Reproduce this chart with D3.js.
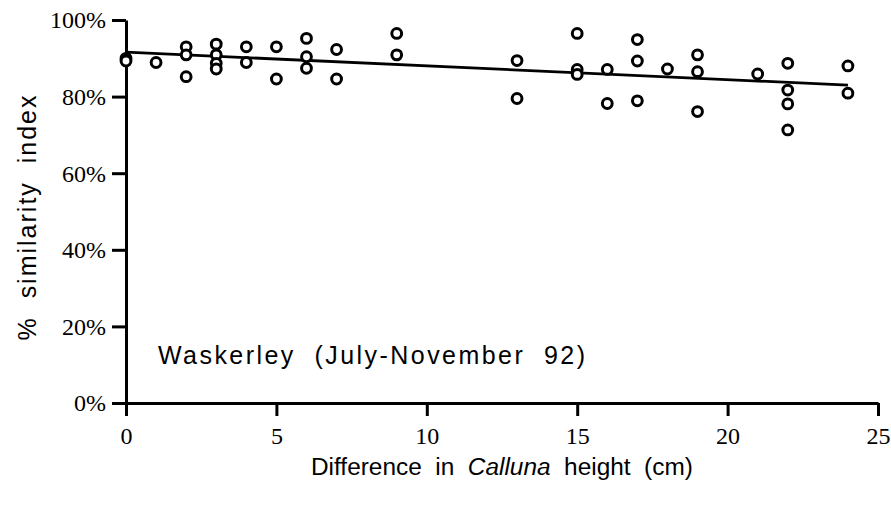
<!DOCTYPE html>
<html>
<head>
<meta charset="utf-8">
<script src="https://cdn.jsdelivr.net/npm/d3@7"></script>
<style>
  html, body { margin: 0; padding: 0; background: #fff; }
  svg { display: block; }
  text.pre { white-space: pre; }
</style>
</head>
<body>
<svg id="chart" width="891" height="506"></svg>
<script>
// ---- data ----
const heightDiff = [0, 0, 1, 2, 2, 2, 3, 3, 3, 3, 4, 4, 5, 5, 6, 6, 6, 7, 7, 9, 9,
                    13, 13, 15, 15, 15, 16, 16, 17, 17, 17, 18, 19, 19, 19, 21, 22, 22, 22, 22, 24, 24];
const similarity = [90, 89.3, 88.9, 93.0, 90.9, 85.2, 93.7, 90.9, 88.7, 87.2, 93.0, 88.9, 93.0, 84.6,
                    95.2, 90.4, 87.4, 92.3, 84.6, 96.5, 90.9,
                    89.4, 79.5, 96.5, 87.1, 85.8, 87.1, 78.2, 94.9, 89.3, 78.9, 87.2, 90.9, 86.5, 76.1,
                    85.9, 88.7, 81.7, 78.1, 71.3, 88.0, 80.9];
const fitX = [0, 24];
const fitY = [91.6, 83.0];
const xTicks = [0, 5, 10, 15, 20, 25];
const yTicks = [0, 20, 40, 60, 80, 100];
const xTitle = ["Difference  in  ", "Calluna", "  height  (cm)"];
const yTitle = "%  similarity  index";
const annotation = "Waskerley  (July-November  92)";

// ---- drawing ----
const svg = d3.select("#chart");
const x = d3.scaleLinear().domain([0, 25]).range([126, 878]);
const y = d3.scaleLinear().domain([0, 100]).range([403, 20]);

const serif = "'Liberation Serif', 'Times New Roman', serif";
const sans = "'Liberation Sans', Arial, Helvetica, sans-serif";

// y axis
const gy = svg.append("g")
  .attr("transform", `translate(${x(0)},0)`)
  .call(d3.axisLeft(y).tickValues(yTicks).tickSize(14).tickSizeOuter(0).tickPadding(6)
    .tickFormat(d => d + "%"));
// x axis
const gx = svg.append("g")
  .attr("transform", `translate(0,${y(0)})`)
  .call(d3.axisBottom(x).tickValues(xTicks).tickSize(13).tickSizeOuter(0).tickPadding(11)
    .tickFormat(d3.format("d")));

[gx, gy].forEach(g => {
  g.select(".domain").attr("stroke", "#000").attr("stroke-width", 3);
  g.selectAll(".tick line").attr("stroke", "#000").attr("stroke-width", 3);
  g.selectAll(".tick text").attr("fill", "#000")
    .style("font-family", serif).style("font-size", "24px");
});
gy.selectAll(".tick text").attr("dy", "0.33em");

// regression line
svg.append("path")
  .datum(fitX.map((d, i) => [d, fitY[i]]))
  .attr("d", d3.line().x(d => x(d[0])).y(d => y(d[1])))
  .attr("fill", "none").attr("stroke", "#000").attr("stroke-width", 2.8);

// points
svg.append("g").selectAll("circle")
  .data(heightDiff.map((d, i) => [d, similarity[i]]))
  .join("circle")
  .attr("cx", d => x(d[0])).attr("cy", d => y(d[1]))
  .attr("r", 4.9)
  .attr("fill", "#fff").attr("stroke", "#000").attr("stroke-width", 3);

// annotation
svg.append("text").attr("class", "pre")
  .attr("x", 158).attr("y", 364)
  .attr("textLength", 427).attr("lengthAdjust", "spacing")
  .style("font-family", sans).style("font-size", "25px").attr("fill", "#000")
  .text(annotation);

// x title
const xt = svg.append("text").attr("class", "pre")
  .attr("x", 311).attr("y", 475)
  .style("font-family", sans).style("font-size", "24.4px")
  .attr("fill", "#000");
xTitle.forEach((t, i) => {
  xt.append("tspan").style("font-style", i === 1 ? "italic" : "normal").text(t);
});

// y title
svg.append("text").attr("class", "pre")
  .attr("transform", "translate(36,218) rotate(-90)")
  .attr("text-anchor", "middle")
  .attr("textLength", 245).attr("lengthAdjust", "spacing")
  .style("font-family", sans).style("font-size", "25px").attr("fill", "#000")
  .text(yTitle);
</script>
</body>
</html>
